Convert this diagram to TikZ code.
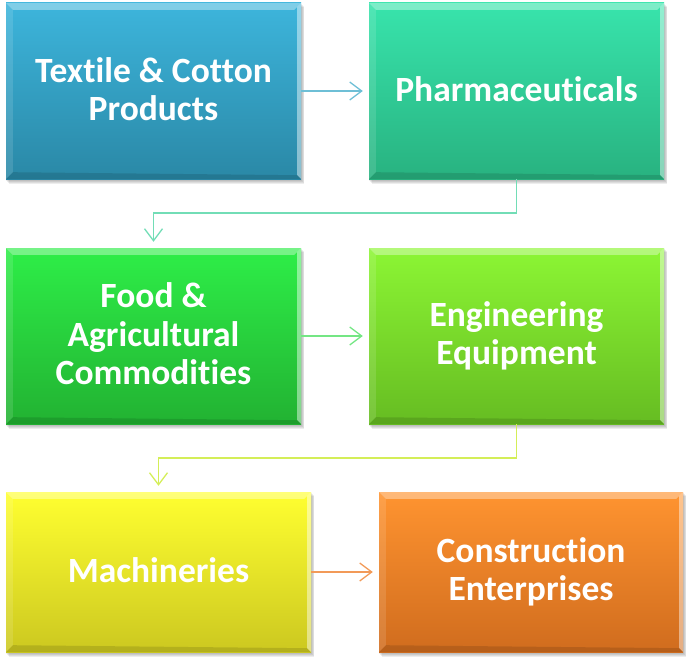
\documentclass[tikz,border=0pt]{standalone}
\usepackage{fontspec}
\setmainfont{Carlito}[Ligatures=NoCommon]
\usetikzlibrary{arrows.meta,backgrounds}
\definecolor{c1t}{HTML}{3DB5DC}\definecolor{c1b}{HTML}{2A88A6}
\definecolor{c2t}{HTML}{38E4AC}\definecolor{c2b}{HTML}{28B280}
\definecolor{c3t}{HTML}{2EEE48}\definecolor{c3b}{HTML}{22B232}
\definecolor{c4t}{HTML}{8CF634}\definecolor{c4b}{HTML}{66BC22}
\definecolor{c5t}{HTML}{FFFF30}\definecolor{c5b}{HTML}{CCC820}
\definecolor{c6t}{HTML}{FF9430}\definecolor{c6b}{HTML}{D06C1E}
\definecolor{a1}{HTML}{6EBFD6}
\definecolor{a2}{HTML}{72DDB6}
\definecolor{a3}{HTML}{74E684}
\definecolor{a4}{HTML}{D4EE58}
\definecolor{a5}{HTML}{F29A58}
\newcommand\mybevel[1]{%
  \fill[white,opacity=0.35] (#1.north west) -- (#1.north east) -- ([xshift=-7pt,yshift=-7pt]#1.north east) -- ([xshift=7pt,yshift=-7pt]#1.north west) -- cycle;
  \fill[white,opacity=0.12] (#1.north west) -- ([xshift=7pt,yshift=-7pt]#1.north west) -- ([xshift=7pt,yshift=7pt]#1.south west) -- (#1.south west) -- cycle;
  \fill[white,opacity=0.45] (#1.north east) -- (#1.south east) -- ([xshift=-4pt,yshift=4pt]#1.south east) -- ([xshift=-4pt,yshift=-4pt]#1.north east) -- cycle;
  \fill[black,opacity=0.12] (#1.south west) -- (#1.south east) -- ([xshift=-4pt,yshift=4pt]#1.south east) -- ([xshift=7pt,yshift=7pt]#1.south west) -- cycle;
}
\tikzset{
  boxbase/.style={rectangle, inner sep=0pt, align=center, text=white,
    font=\bfseries\fontsize{35.5}{38.5}\selectfont},
  conn/.style={line width=1.3pt, -{Straight Barb[length=12pt,width=18pt,line width=1.3pt]}, shorten >=6pt},
}
\begin{document}
\begin{tikzpicture}[x=1pt,y=-1pt]
\useasboundingbox (0,0) rectangle (692,663);
\node[boxbase, minimum width=295pt, minimum height=176pt, top color=c1t, bottom color=c1b] (b1) at (153.5,91) {Textile \& Cotton\\Products\rule[-4pt]{0pt}{1pt}};
\node[boxbase, minimum width=295pt, minimum height=176pt, top color=c2t, bottom color=c2b] (b2) at (516.5,91) {Pharmaceuticals\rule[-4pt]{0pt}{1pt}};
\node[boxbase, minimum width=295pt, minimum height=176pt, top color=c3t, bottom color=c3b] (b3) at (153.5,336) {Food \&\\Agricultural\\Commodities\rule[-4pt]{0pt}{1pt}};
\node[boxbase, minimum width=295pt, minimum height=176pt, top color=c4t, bottom color=c4b] (b4) at (516.5,336) {Engineering\\Equipment};
\node[boxbase, minimum width=305pt, minimum height=160pt, top color=c5t, bottom color=c5b] (b5) at (158.5,572) {Machineries\rule[-4pt]{0pt}{1pt}};
\node[boxbase, minimum width=304pt, minimum height=160pt, top color=c6t, bottom color=c6b] (b6) at (531,572) {Construction\\Enterprises};
\begin{scope}[on background layer]
\foreach \n in {b1,b2,b3,b4,b5,b6}{
  \foreach \s in {2,3,4,5}{
    \fill[black,opacity=0.07] ([xshift=\s pt-2pt,yshift=-\s pt+1pt]\n.north west) rectangle ([xshift=\s pt*0.6,yshift=-\s pt]\n.south east);
  }
}
\end{scope}
\foreach \n in {b1,b2,b3,b4,b5,b6}{\mybevel{\n}}
\coordinate (m1) at (153.5,213);
\coordinate (m2) at (158.5,458);
\draw[conn,a1] (b1.east) -- (b2.west);
\draw[conn,a2] (b2.south) |- (m1) -- (b3.north);
\draw[conn,a3] (b3.east) -- (b4.west);
\draw[conn,a4] (b4.south) |- (m2) -- (b5.north);
\draw[conn,a5] (b5.east) -- (b6.west);
\end{tikzpicture}
\end{document}
